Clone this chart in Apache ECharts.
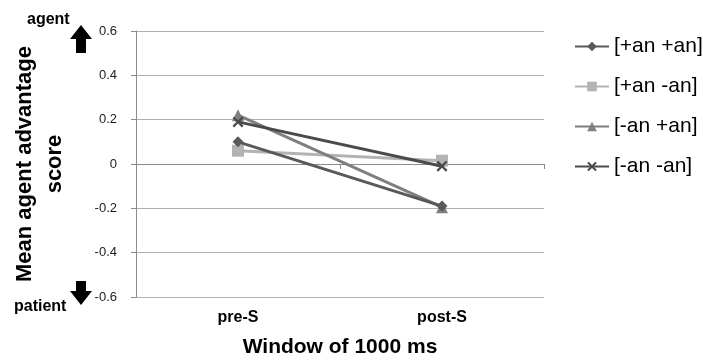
<!DOCTYPE html>
<html><head><meta charset="utf-8">
<script src="https://cdn.jsdelivr.net/npm/echarts@6/dist/echarts.min.js"></script>
<style>html,body{margin:0;padding:0;background:#fff}#c{width:703px;height:360px}</style>
</head><body><div id="c"></div>
<script>
const categories = ['pre-S', 'post-S'];
const seriesNames = ['[+an +an]', '[+an -an]', '[-an +an]', '[-an -an]'];
const plusPlus = [0.10, -0.19];
const plusMinus = [0.06, 0.015];
const minusPlus = [0.22, -0.195];
const minusMinus = [0.19, -0.01];

const crossPath = 'path://M0,1.5L1.5,0L5,3.5L8.5,0L10,1.5L6.5,5L10,8.5L8.5,10L5,6.5L1.5,10L0,8.5L3.5,5Z';
const F = '"Liberation Sans", Arial, sans-serif';

const chart = echarts.init(document.getElementById('c'), null, {renderer: 'canvas'});
function mk(name, data, color, symbol, size, z) {
  return {name, type: 'line', data, color, symbol, symbolSize: size, z,
    lineStyle: {width: 3, color}, itemStyle: {color}, animation: false};
}
chart.setOption({
  animation: false,
  textStyle: {fontFamily: F},
  grid: {left: 136, right: 159, top: 31, bottom: 63, containLabel: false, outerBoundsMode: 'none'},
  legend: {
    orient: 'vertical', left: 569, top: 31, itemWidth: 34, itemHeight: 12, itemGap: 19,
    textStyle: {fontSize: 21, color: '#000', fontFamily: F},
    data: seriesNames
  },
  xAxis: [{
    type: 'category', data: categories, boundaryGap: true,
    axisLine: {onZero: true, lineStyle: {color: '#8c8c8c', width: 1}},
    axisTick: {show: true, length: 5, lineStyle: {color: '#8c8c8c'}},
    axisLabel: {show: false}, splitLine: {show: false}
  }, {
    type: 'category', data: categories, boundaryGap: true, position: 'bottom',
    axisLine: {show: false, onZero: false}, axisTick: {show: false},
    axisLabel: {show: true, margin: 13, fontSize: 16, fontWeight: 'bold', color: '#000', fontFamily: F},
    name: 'Window of 1000 ms', nameLocation: 'middle', nameGap: 40,
    nameTextStyle: {fontSize: 21, fontWeight: 'bold', color: '#000', fontFamily: F}
  }],
  yAxis: {
    type: 'value', min: -0.6, max: 0.6, interval: 0.2,
    axisLine: {show: true, lineStyle: {color: '#8c8c8c'}},
    axisTick: {show: true, length: 5, lineStyle: {color: '#8c8c8c'}},
    axisLabel: {fontSize: 13, color: '#222', margin: 19, fontFamily: F,
      formatter: v => { const r = Math.round(v*10)/10; return r === 0 ? '0' : String(r); }},
    splitLine: {show: true, lineStyle: {color: '#b0b0b0', width: 1}},
    name: 'Mean agent advantage\nscore', nameLocation: 'middle', nameGap: 66, nameRotate: 90,
    nameTextStyle: {fontSize: 22, fontWeight: 'bold', color: '#000', fontFamily: F, lineHeight: 30}
  },
  series: [
    mk(seriesNames[0], plusPlus, '#595959', 'diamond', 11, 4),
    mk(seriesNames[1], plusMinus, '#b3b3b3', 'rect', 12, 2),
    mk(seriesNames[2], minusPlus, '#7f7f7f', 'triangle', 12, 3),
    mk(seriesNames[3], minusMinus, '#4a4a4a', crossPath, 11, 5)
  ],
  graphic: [
    {type: 'text', left: 27, top: 12, style: {text: 'agent', font: 'bold 16px ' + F, fill: '#000'}},
    {type: 'text', left: 14, top: 299, style: {text: 'patient', font: 'bold 16px ' + F, fill: '#000'}},
    {type: 'polygon', shape: {points: [[81,25],[92,39],[86,39],[86,53],[76,53],[76,39],[70,39]]}, style: {fill: '#000'}},
    {type: 'polygon', shape: {points: [[81,305],[92,291],[86,291],[86,281],[76,281],[76,291],[70,291]]}, style: {fill: '#000'}}
  ]
});
</script></body></html>
